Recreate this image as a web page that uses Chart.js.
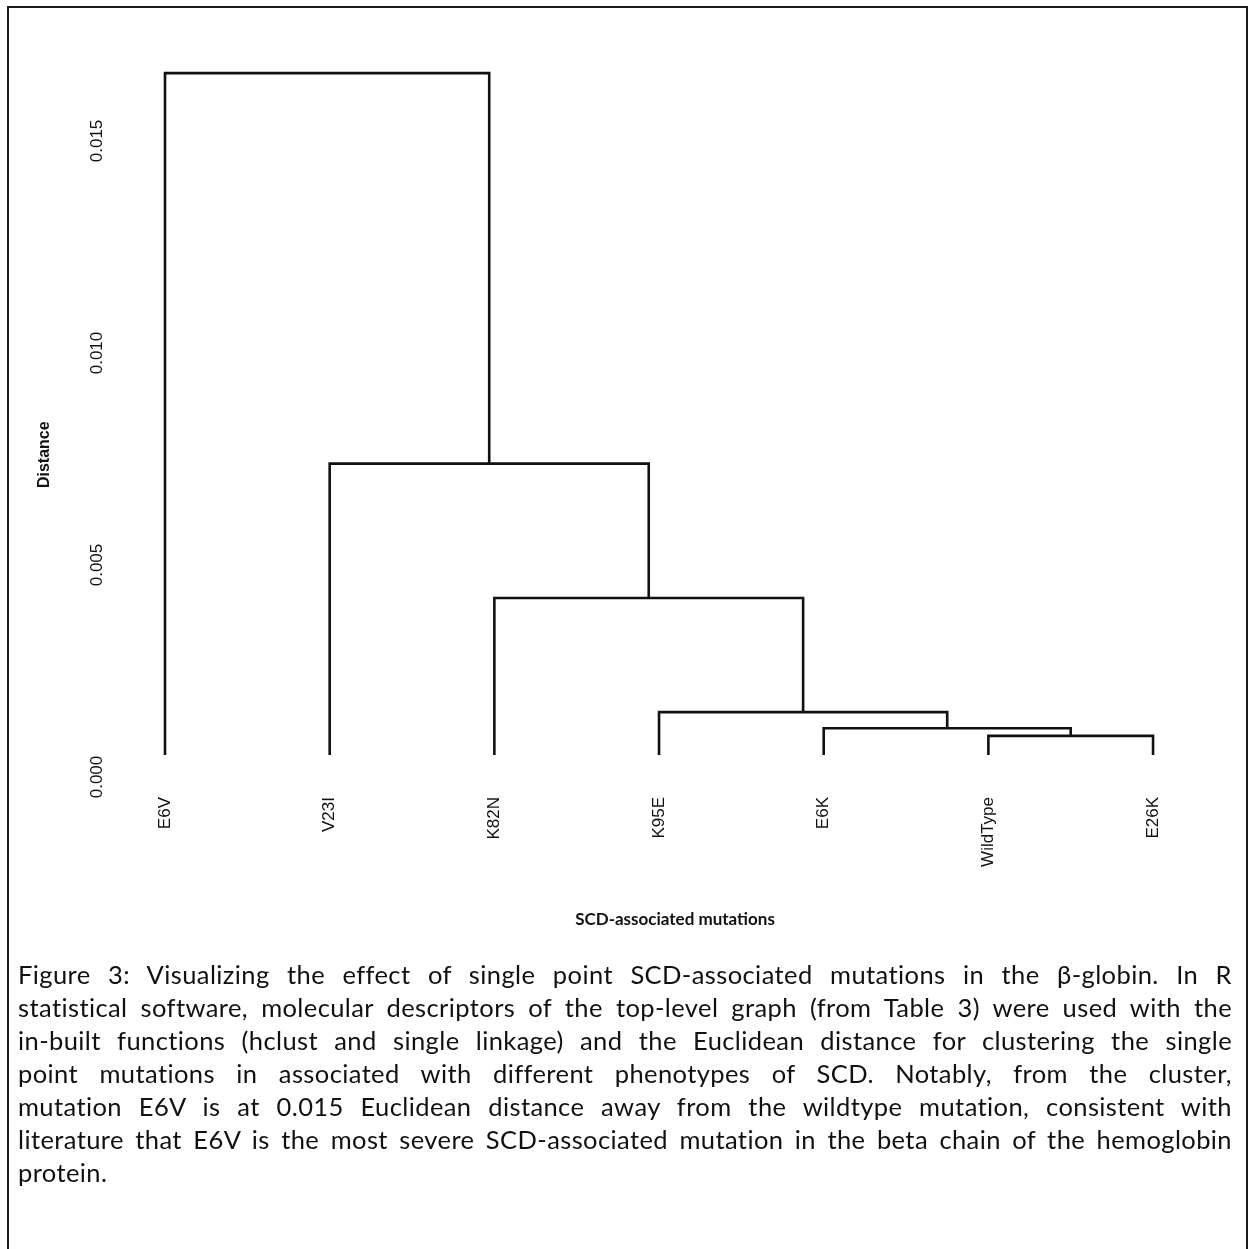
<!DOCTYPE html>
<html>
<head>
<meta charset="utf-8">
<script src="https://cdn.jsdelivr.net/npm/chart.js@4/dist/chart.umd.min.js"></script>
<style>
  html, body { margin: 0; padding: 0; background: #fff; }
  body { width: 1250px; height: 1249px; position: relative; overflow: hidden; }
  #frame { position: absolute; left: 7px; top: 6px; width: 1241px; height: 1300px; border: 2px solid #1a1a1a; box-sizing: border-box; }
  #wrap { position: absolute; left: 0; top: 0; width: 1250px; height: 960px; }
  #cap { position: absolute; left: 18px; top: 958px; width: 1214px; font-family: Lato, "Open Sans", sans-serif; font-size: 25.5px; letter-spacing: 0.4px; line-height: 33px; color: #111; }
  #cap div { text-align: justify; text-align-last: justify; white-space: nowrap; }
  #cap div.last { text-align-last: left; }
</style>
</head>
<body>
<div id="frame"></div>
<div id="wrap"><canvas id="c" width="1250" height="960"></canvas></div>
<div id="cap">
  <div>Figure 3: Visualizing the effect of single point SCD-associated mutations in the β-globin. In R</div>
  <div>statistical software, molecular descriptors of the top-level graph (from Table 3) were used with the</div>
  <div>in-built functions (hclust and single linkage) and the Euclidean distance for clustering the single</div>
  <div>point mutations in associated with different phenotypes of SCD. Notably, from the cluster,</div>
  <div>mutation E6V is at 0.015 Euclidean distance away from the wildtype mutation, consistent with</div>
  <div>literature that E6V is the most severe SCD-associated mutation in the beta chain of the hemoglobin</div>
  <div class="last">protein.</div>
</div>
<script>
// ---- data ----
const leafLabels   = ['E6V', 'V23I', 'K82N', 'K95E', 'E6K', 'WildType', 'E26K'];
const leafHeight   = 0.00052;          // where the leaf branches end
// merge table (R hclust style): negative = leaf (1-based, display order), positive = earlier merge
const mergeLeft    = [-6, -5, -4, -3, -2, -1];
const mergeRight   = [-7,  1,  2,  3,  4,  5];
const mergeHeights = [0.00097, 0.00115, 0.00153, 0.00422, 0.00739, 0.0166];
const yTickValues  = [0, 0.005, 0.010, 0.015];
const yTickLabels  = ['0.000', '0.005', '0.010', '0.015'];
const xTitle = 'SCD-associated mutations';
const yTitle = 'Distance';

// ---- dendrogram layout from the merge table ----
const mergeX = [];
function nodePos(id) {
  if (id < 0) return { x: -id, y: leafHeight };
  return { x: mergeX[id - 1], y: mergeHeights[id - 1] };
}
const datasets = [];
for (let i = 0; i < mergeHeights.length; i++) {
  const a = nodePos(mergeLeft[i]);
  const b = nodePos(mergeRight[i]);
  const h = mergeHeights[i];
  mergeX.push((a.x + b.x) / 2);
  datasets.push({
    data: [{ x: a.x, y: a.y }, { x: a.x, y: h }, { x: b.x, y: h }, { x: b.x, y: b.y }],
    showLine: true,
    borderColor: '#111',
    borderWidth: 2.6,
    borderJoinStyle: 'miter',
    borderCapStyle: 'butt',
    pointRadius: 0,
    tension: 0,
    clip: false
  });
}

new Chart(document.getElementById('c'), {
  type: 'scatter',
  data: { datasets },
  options: {
    responsive: false,
    animation: false,
    layout: { padding: { left: 0, top: 132.5, right: 15.6, bottom: 0 } },
    plugins: { legend: { display: false }, tooltip: { enabled: false } },
    scales: {
      x: {
        type: 'linear', min: 0.7, max: 7.494,
        grid: { display: false, drawTicks: false },
        border: { display: false },
        afterBuildTicks: s => { s.ticks = leafLabels.map((_, i) => ({ value: i + 1 })); },
        afterFit: s => { s.height = 183; },
        ticks: {
          minRotation: 90, maxRotation: 90, padding: 20, autoSkip: false,
          font: { family: 'Liberation Sans', size: 17 }, color: '#111',
          callback: (v, i) => leafLabels[i]
        },
        title: {
          display: true, text: xTitle, color: '#111',
          font: { family: 'Lato', size: 17, weight: 'bold' },
          padding: { top: 0, bottom: 30 }
        }
      },
      y: {
        type: 'linear', min: 0, max: 0.0152,
        grid: { display: false, drawTicks: false },
        border: { display: false },
        afterBuildTicks: s => { s.ticks = yTickValues.map(v => ({ value: v })); },
        afterFit: s => { s.width = 115.6; },
        ticks: {
          minRotation: 90, maxRotation: 90, crossAlign: 'center', padding: -2.6,
          font: { family: 'Liberation Sans', size: 17 }, color: '#111',
          callback: (v, i) => yTickLabels[i]
        },
        title: {
          display: true, text: yTitle, color: '#111',
          font: { family: 'Liberation Sans', size: 16, weight: 'bold' },
          padding: { top: 35, bottom: 0 }
        }
      }
    }
  }
});
</script>
</body>
</html>
